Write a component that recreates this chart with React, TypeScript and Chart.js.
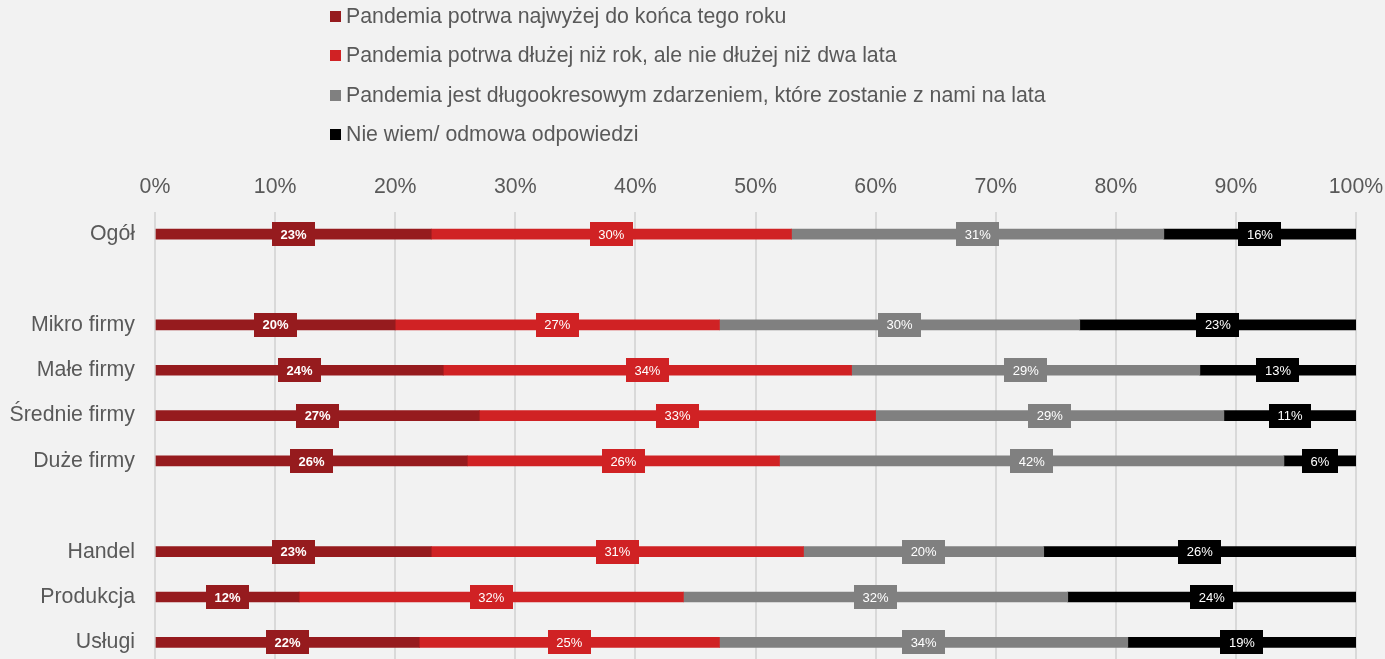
import React, { useEffect, useRef } from "react";
import { Chart, registerables } from "chart.js";

Chart.register(...registerables);

const categories = ["Ogół", "", "Mikro firmy", "Małe firmy", "Średnie firmy", "Duże firmy", "", "Handel", "Produkcja", "Usługi"];
const seriesNames = [
  "Pandemia potrwa najwyżej do końca tego roku",
  "Pandemia potrwa dłużej niż rok, ale nie dłużej niż dwa lata",
  "Pandemia jest długookresowym zdarzeniem, które zostanie z nami na lata",
  "Nie wiem/ odmowa odpowiedzi",
];
const shortTerm = [23, null, 20, 24, 27, 26, null, 23, 12, 22];
const midTerm = [30, null, 27, 34, 33, 26, null, 31, 32, 25];
const longTerm = [31, null, 30, 29, 29, 42, null, 20, 32, 34];
const dontKnow = [16, null, 23, 13, 11, 6, null, 26, 24, 19];
const seriesValues = [shortTerm, midTerm, longTerm, dontKnow];
const seriesColors = ["#961B1E", "#D02224", "#808080", "#000000"];
const xMin = 0;
const xMax = 100;
const xStep = 10;

const FONT = "'Liberation Sans', Arial, sans-serif";
const TEXT = "#595959";
const FS = 21.3;

const bgPlugin = {
  id: "bg",
  beforeDraw(chart: any) {
    const { ctx, width, height } = chart;
    ctx.save();
    ctx.fillStyle = "#f2f2f2";
    ctx.fillRect(0, 0, width, height);
    ctx.restore();
  },
};

const labelPlugin = {
  id: "boxLabels",
  afterDatasetsDraw(chart: any) {
    const { ctx } = chart;
    chart.data.datasets.forEach((ds: any, i: number) => {
      const meta = chart.getDatasetMeta(i);
      meta.data.forEach((el: any, j: number) => {
        const v = ds.data[j];
        if (v === null || v === undefined) return;
        const cx = (el.x + el.base) / 2;
        const cy = el.y;
        const txt = v + "%";
        ctx.save();
        ctx.font = (i === 0 ? "bold " : "") + "13px " + FONT;
        const w = ctx.measureText(txt).width + 17;
        const h = 24;
        ctx.fillStyle = ds.backgroundColor;
        ctx.fillRect(Math.round(cx - w / 2), Math.round(cy - h / 2), Math.round(w), h);
        ctx.fillStyle = "#ffffff";
        ctx.textAlign = "center";
        ctx.textBaseline = "middle";
        ctx.fillText(txt, cx, cy + 1);
        ctx.restore();
      });
    });
  },
};

const legendPlugin = {
  id: "customLegend",
  afterDraw(chart: any) {
    const { ctx } = chart;
    ctx.save();
    ctx.font = FS + "px " + FONT;
    ctx.textBaseline = "middle";
    ctx.textAlign = "left";
    seriesNames.forEach((name, i) => {
      const y = 16 + i * 39.4;
      ctx.fillStyle = seriesColors[i];
      ctx.fillRect(330, Math.round(y - 5), 11, 11);
      ctx.fillStyle = TEXT;
      ctx.fillText(name, 346, y + 1);
    });
    ctx.restore();
  },
};

export default function App() {
  const ref = useRef<HTMLCanvasElement>(null);
  useEffect(() => {
    if (!ref.current) return;
    const chart = new Chart(ref.current, {
      type: "bar",
      data: {
        labels: categories,
        datasets: seriesValues.map((vals, i) => ({
          label: seriesNames[i],
          data: vals,
          backgroundColor: seriesColors[i],
          borderWidth: 0,
          barThickness: 10,
        })),
      },
      options: {
        indexAxis: "y",
        animation: false,
        responsive: false,
        layout: { padding: { top: 171.5, left: 0, right: 29, bottom: 0 } },
        plugins: {
          legend: { display: false },
          tooltip: { enabled: false },
        },
        scales: {
          x: {
            position: "top",
            stacked: true,
            min: xMin,
            max: xMax,
            afterFit(scale: any) {
              scale.height = 40;
              scale.paddingLeft = 0;
              scale.paddingRight = 0;
            },
            ticks: {
              stepSize: xStep,
              callback: (v: any) => v + "%",
              color: TEXT,
              font: { family: FONT, size: FS },
              padding: 12,
            },
            grid: { color: "#d9d9d9", lineWidth: 2, drawTicks: false },
            border: { display: false },
          },
          y: {
            stacked: true,
            afterFit(scale: any) {
              scale.width = 155;
              scale.paddingTop = 0;
              scale.paddingBottom = 0;
            },
            ticks: {
              color: TEXT,
              font: { family: FONT, size: FS },
              padding: 20,
            },
            grid: { display: false, drawTicks: false },
            border: { display: false },
          },
        },
      },
      plugins: [bgPlugin, labelPlugin, legendPlugin],
    } as any);
    return () => chart.destroy();
  }, []);
  return (
    <div style={{ position: "fixed", left: 0, top: 0, width: 1385, height: 659, overflow: "hidden", background: "#f2f2f2" }}>
      <canvas ref={ref} width={1385} height={665} style={{ display: "block" }} />
    </div>
  );
}
